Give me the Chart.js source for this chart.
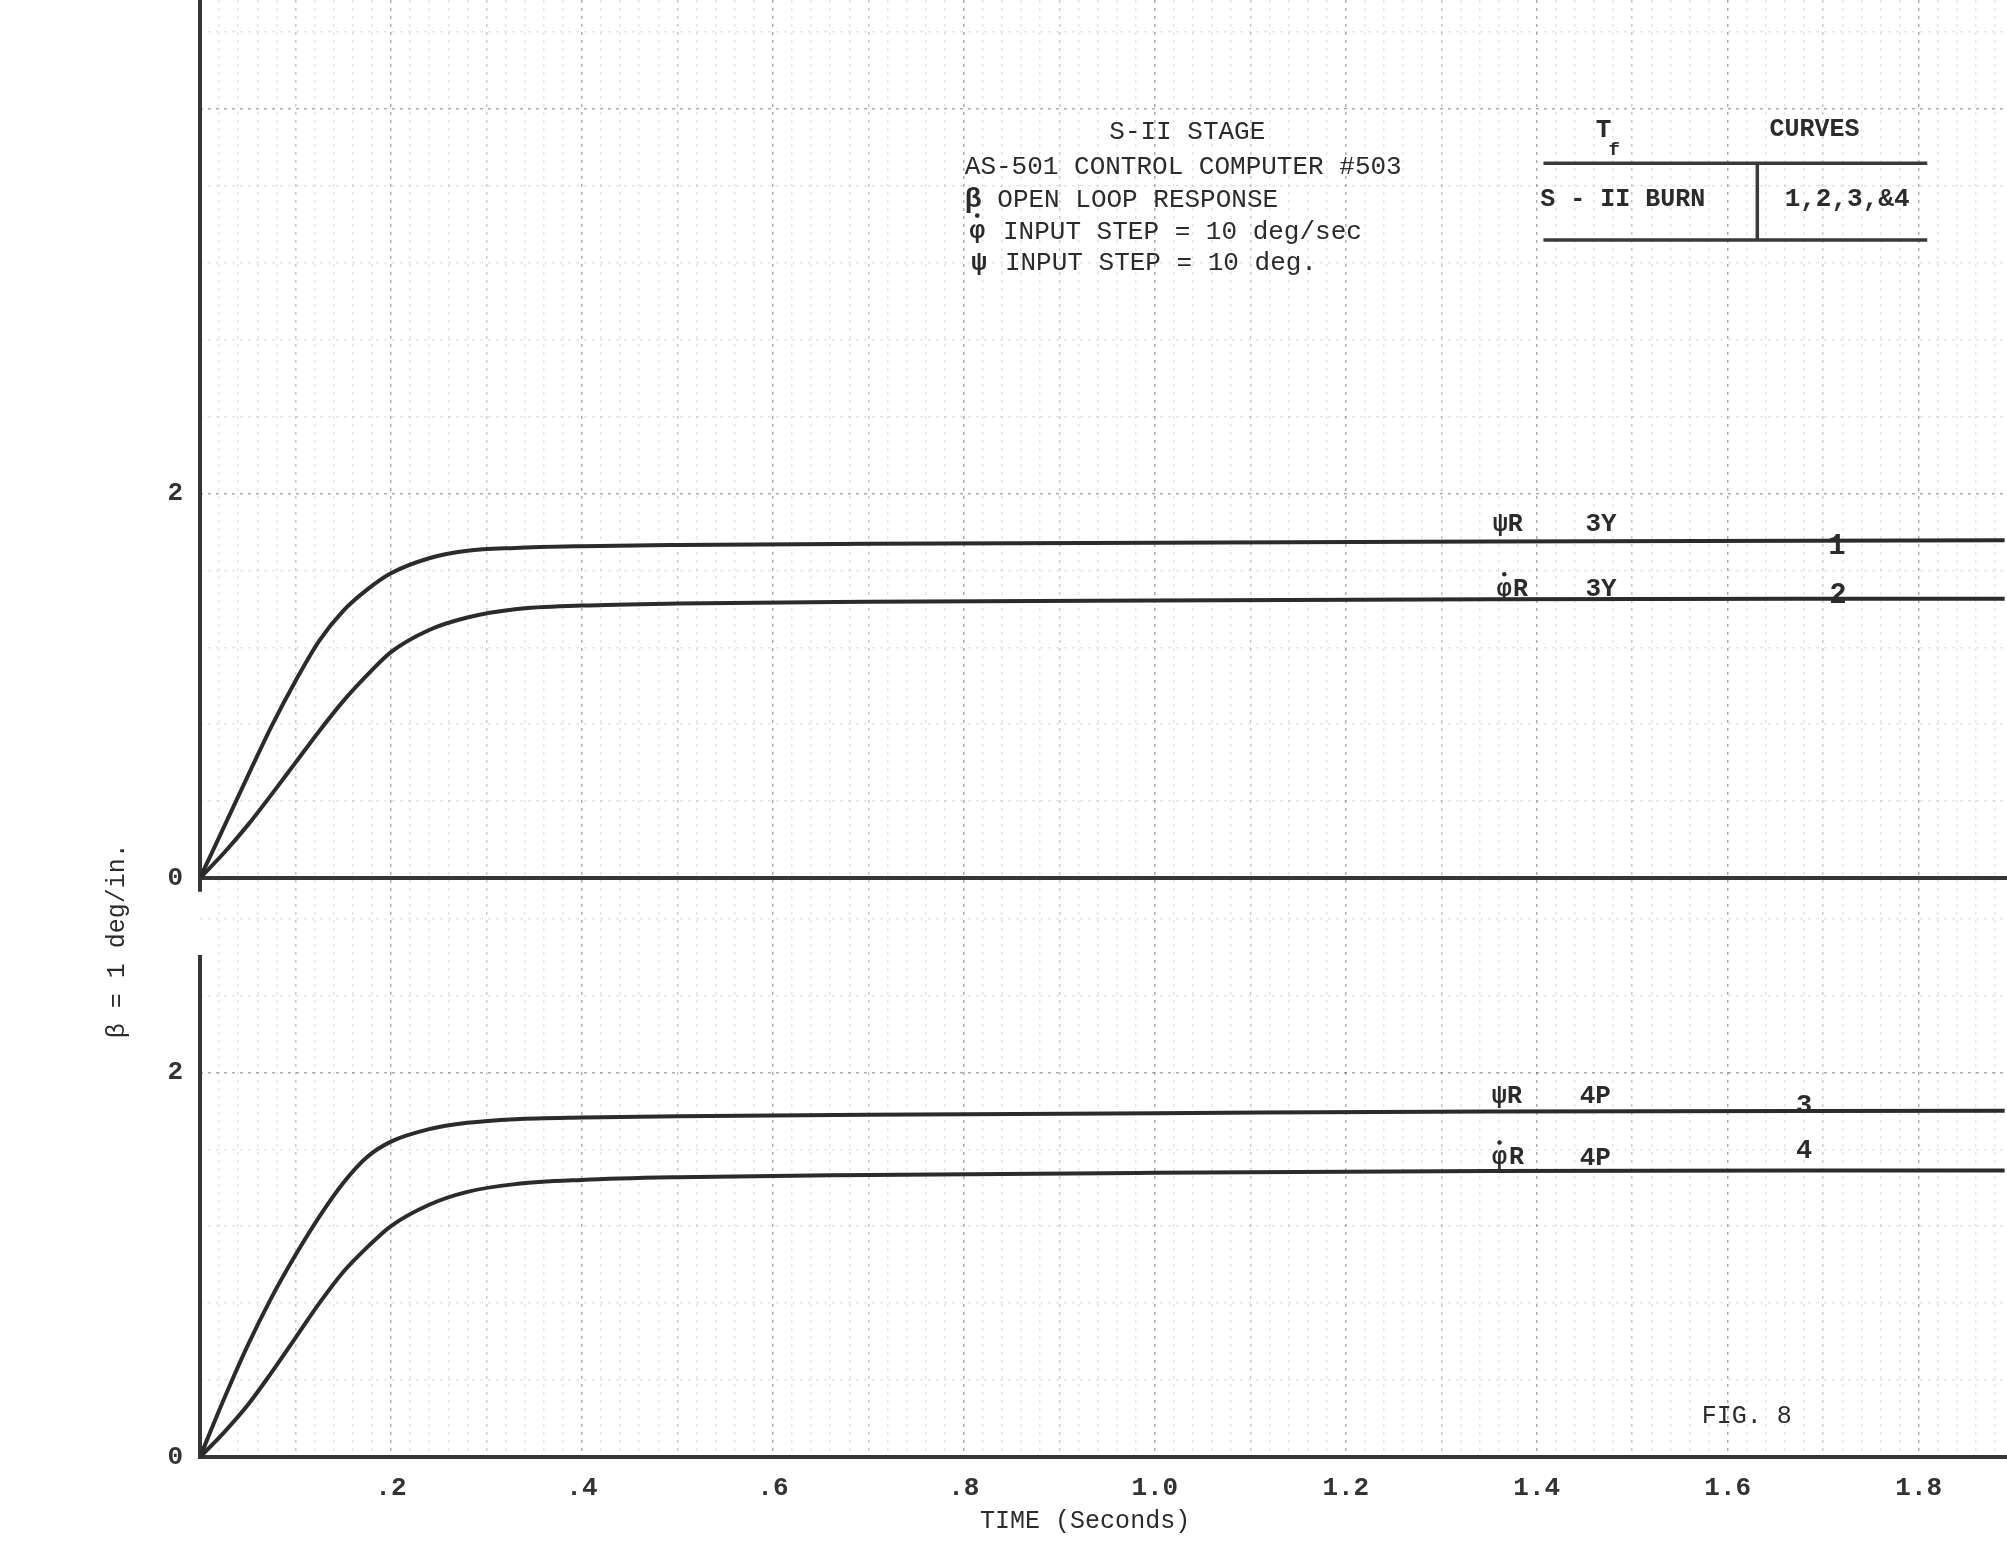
<!DOCTYPE html>
<html>
<head>
<meta charset="utf-8">
<title>Fig. 8 - S-II stage open loop response</title>
<script src="https://cdn.jsdelivr.net/npm/chart.js@4.4.1/dist/chart.umd.min.js"></script>
<style>
  html, body { margin: 0; padding: 0; background: #fff; }
  #fig8 { display: block; }
</style>
</head>
<body>
<canvas id="fig8" width="2007" height="1542"></canvas>
<script>
// time (s) and beta response (deg)
const times  = [0, 0.025, 0.05, 0.075, 0.1, 0.125, 0.15, 0.175, 0.2, 0.24, 0.28, 0.33, 0.4, 0.5, 0.7, 1.0, 1.35, 1.89]
const curve1 = [0, 0.265, 0.53, 0.79, 1.025, 1.235, 1.39, 1.50, 1.585, 1.663, 1.702, 1.717, 1.726, 1.732, 1.738, 1.744, 1.75, 1.757]
const curve2 = [0, 0.13, 0.275, 0.435, 0.60, 0.765, 0.92, 1.055, 1.175, 1.29, 1.355, 1.398, 1.417, 1.428, 1.437, 1.444, 1.45, 1.453]
const curve3 = [0, 0.30, 0.58, 0.83, 1.05, 1.25, 1.425, 1.56, 1.64, 1.705, 1.738, 1.757, 1.766, 1.772, 1.78, 1.788, 1.797, 1.80]
const curve4 = [0, 0.127, 0.27, 0.44, 0.62, 0.80, 0.962, 1.09, 1.201, 1.312, 1.379, 1.419, 1.441, 1.455, 1.467, 1.478, 1.487, 1.49]

const xTickLabels = [".2", ".4", ".6", ".8", "1.0", "1.2", "1.4", "1.6", "1.8"]
const yTickLabels = ["0", "1", "2"]

const headerLines = ["AS-501 CONTROL COMPUTER #503", "OPEN LOOP RESPONSE", "INPUT STEP = 10 deg/sec", "INPUT STEP = 10 deg."]
const curveTags = ["1", "2", "3", "4"]

const ink = "#2b2b2b"
const mono = '"Liberation Mono", "DejaVu Sans Mono", monospace'

function pts(values) {
  return times.map((t, i) => ({ x: t, y: values[i] }))
}

function gridColor(step) {
  return ctx => {
    const i = Math.round(ctx.tick.value / step)
    if (i === 0) return "rgba(0,0,0,0)"
    if (i % 10 === 0) return "rgba(50,50,50,0.40)"
    if (i % 5 === 0) return "rgba(50,50,50,0.26)"
    return "rgba(50,50,50,0.12)"
  }
}

function stepTicks(step, max) {
  return scale => {
    const ticks = []
    for (let i = 0; i * step <= max + 1e-9; i++) ticks.push({ value: +(i * step).toFixed(3) })
    scale.ticks = ticks
  }
}

// the plot runs edge to edge like the paper, so drop the label padding
function noPad(s) {
  s.paddingTop = 0
  s.paddingBottom = 0
  s.paddingLeft = 0
  s.paddingRight = 0
}

const tickFont = { family: mono, size: 26, weight: "bold" }

function yAxis(max, weight) {
  return {
    type: "linear",
    position: "left",
    stack: "beta",
    stackWeight: weight,
    min: 0,
    max: max,
    afterBuildTicks: stepTicks(0.1, max),
    afterFit: s => { s.width = 200; noPad(s) },
    border: { display: false, dash: [3, 5] },
    grid: { color: gridColor(0.1), lineWidth: 1.5, drawTicks: false },
    ticks: {
      padding: 17,
      color: "#333",
      font: tickFont,
      callback: v => {
        const i = Math.round(v * 10)
        return (i % 10 === 0 && i / 10 < yTickLabels.length) ? yTickLabels[i / 10] : ""
      }
    }
  }
}

function put(ctx, str, x, y, align, size, weight) {
  ctx.font = (weight || "normal") + " " + size + "px " + mono
  ctx.textAlign = align
  ctx.textBaseline = "middle"
  ctx.fillText(str, x, y)
}

// phi with a dot over it (rate symbol), centred on x
function phiDot(ctx, x, y, size) {
  put(ctx, "φ", x, y, "center", size, "bold")
  ctx.beginPath()
  ctx.arc(x, y - size * 0.62, size * 0.09, 0, Math.PI * 2)
  ctx.fill()
}

const paper = {
  id: "paper",
  beforeDraw(chart) {
    const ctx = chart.ctx
    ctx.save()
    ctx.fillStyle = "#fff"
    ctx.fillRect(0, 0, chart.width, chart.height)
    ctx.restore()
  },
  beforeDatasetsDraw(chart) {
    const { ctx, chartArea: a, scales: { yTop, yBot } } = chart
    ctx.save()
    ctx.strokeStyle = "#363636"
    ctx.lineWidth = 4
    const z = yTop.getPixelForValue(0)
    ctx.beginPath()
    ctx.moveTo(a.left, z); ctx.lineTo(a.right, z)
    // left axis, broken between the two panels
    ctx.moveTo(a.left, a.top); ctx.lineTo(a.left, yBot.getPixelForValue(2.94))
    ctx.moveTo(a.left, yBot.getPixelForValue(2.61)); ctx.lineTo(a.left, a.bottom)
    ctx.stroke()
    ctx.restore()
  },
  afterDraw(chart) {
    const { ctx, chartArea: a, scales: { x, yTop, yBot } } = chart
    const X = v => x.getPixelForValue(v)
    const T = v => yTop.getPixelForValue(v)
    const B = v => yBot.getPixelForValue(v)
    ctx.save()
    ctx.fillStyle = ink

    // header block
    put(ctx, "S-II STAGE", X(1.034), T(3.882), "center", 26)
    put(ctx, headerLines[0], X(0.801), T(3.700), "left", 26)
    put(ctx, "β", X(0.801), T(3.527), "left", 28, "bold")
    put(ctx, headerLines[1], X(0.835), T(3.527), "left", 26)
    phiDot(ctx, X(0.814), T(3.362), 26)
    put(ctx, headerLines[2], X(0.841), T(3.362), "left", 26)
    put(ctx, "ψ", X(0.816), T(3.198), "center", 26, "bold")
    put(ctx, headerLines[3], X(0.843), T(3.198), "left", 26)

    // T_f / CURVES table
    put(ctx, "T", X(1.470), T(3.891), "center", 26, "bold")
    put(ctx, "f", X(1.481), T(3.787), "center", 19, "bold")
    put(ctx, "CURVES", X(1.691), T(3.891), "center", 25, "bold")
    put(ctx, "S - II BURN", X(1.490), T(3.527), "center", 25, "bold")
    put(ctx, "1,2,3,&4", X(1.725), T(3.527), "center", 26, "bold")
    ctx.strokeStyle = "#3a3a3a"
    ctx.lineWidth = 3.5
    ctx.beginPath()
    ctx.moveTo(X(1.407), T(3.718)); ctx.lineTo(X(1.809), T(3.718))
    ctx.moveTo(X(1.407), T(3.319)); ctx.lineTo(X(1.809), T(3.319))
    ctx.moveTo(X(1.631), T(3.718)); ctx.lineTo(X(1.631), T(3.319))
    ctx.stroke()

    // curve labels, upper panel
    put(ctx, "ψR", X(1.354), T(1.837), "left", 25, "bold")
    put(ctx, "3Y", X(1.451), T(1.837), "left", 26, "bold")
    put(ctx, curveTags[0], X(1.7145), T(1.724), "center", 29, "bold")
    phiDot(ctx, X(1.366), T(1.499), 25)
    put(ctx, "R", X(1.375), T(1.499), "left", 25, "bold")
    put(ctx, "3Y", X(1.451), T(1.499), "left", 26, "bold")
    put(ctx, curveTags[1], X(1.7155), T(1.468), "center", 29, "bold")

    // curve labels, lower panel
    put(ctx, "ψR", X(1.353), B(1.875), "left", 25, "bold")
    put(ctx, "4P", X(1.445), B(1.875), "left", 26, "bold")
    put(ctx, curveTags[2], X(1.680), B(1.823), "center", 27, "bold")
    phiDot(ctx, X(1.361), B(1.555), 25)
    put(ctx, "R", X(1.371), B(1.555), "left", 25, "bold")
    put(ctx, "4P", X(1.445), B(1.555), "left", 26, "bold")
    put(ctx, curveTags[3], X(1.680), B(1.589), "center", 27, "bold")

    put(ctx, "FIG. 8", X(1.62), B(0.21), "center", 25)
    put(ctx, "TIME (Seconds)", X(0.927), a.bottom + 64, "center", 25)

    // y axis title spanning both panels
    ctx.translate(a.left - 83, B(2.685))
    ctx.rotate(-Math.PI / 2)
    put(ctx, "β = 1 deg/in.", 0, 0, "center", 25)
    ctx.restore()
  }
}

const line = (values, axis) => ({
  data: pts(values),
  yAxisID: axis,
  borderColor: ink,
  borderWidth: 4,
  pointRadius: 0,
  fill: false,
  cubicInterpolationMode: "monotone"
})

new Chart(document.getElementById("fig8"), {
  type: "line",
  data: {
    datasets: [
      line(curve1, "yTop"),
      line(curve2, "yTop"),
      line(curve3, "yBot"),
      line(curve4, "yBot")
    ]
  },
  options: {
    responsive: false,
    devicePixelRatio: 1,
    animation: false,
    layout: { padding: 0 },
    plugins: { legend: { display: false }, tooltip: { enabled: false } },
    scales: {
      x: {
        type: "linear",
        min: 0,
        max: 1.8925,
        afterBuildTicks: stepTicks(0.02, 1.89),
        afterFit: s => { s.height = 85; noPad(s) },
        border: { display: true, color: "#363636", width: 4, dash: [3, 5] },
        grid: { color: gridColor(0.02), lineWidth: 1.5, drawTicks: false },
        ticks: {
          autoSkip: false,
          maxRotation: 0,
          padding: 16,
          color: "#333",
          font: tickFont,
          callback: v => {
            const i = Math.round(v / 0.02)
            return (i > 0 && i % 10 === 0) ? xTickLabels[i / 10 - 1] : ""
          }
        }
      },
      yBot: yAxis(3.011, 579),
      yTop: yAxis(4.567, 878)
    }
  },
  plugins: [paper]
})
</script>
</body>
</html>
